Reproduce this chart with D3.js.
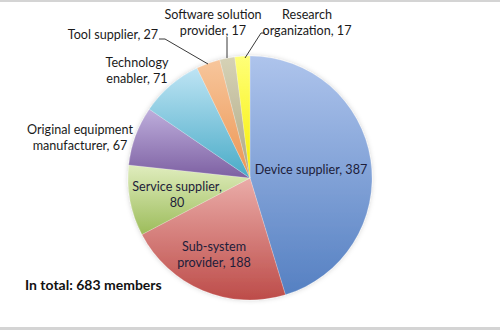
<!DOCTYPE html>
<html>
<head>
<meta charset="utf-8">
<script src="https://cdn.jsdelivr.net/npm/d3@7"></script>
<style>
  body { margin: 0; background: #fff; }
  svg { display: block; }
</style>
</head>
<body>
<script>
// data
var categories = ["Device supplier", "Sub-system provider", "Service supplier",
  "Original equipment manufacturer", "Technology enabler", "Tool supplier",
  "Software solution provider", "Research organization"];
var values = [387, 188, 80, 67, 71, 27, 17, 17];
var labelLines = [
  ["Device supplier, 387"],
  ["Sub-system", "provider, 188"],
  ["Service supplier,", "80"],
  ["Original equipment", "manufacturer, 67"],
  ["Technology", "enabler, 71"],
  ["Tool supplier, 27"],
  ["Software solution", "provider, 17"],
  ["Research", "organization, 17"]
];
var totalText = "In total: 683 members";

// gradient colours (top tint, bottom base) per slice
var topColors = ["#aec4ec", "#eaaca8", "#e0edbe", "#beaedc", "#bee4f4", "#f7c69c", "#d6d2b6", "#ffff78"];
var baseColors = ["#5580c2", "#bd4c49", "#9cbc5a", "#7d60a2", "#49abc7", "#ec9552", "#aea885", "#f6ee00"];

// label layout: [x, y of first line, anchor], leader lines
var labelPos = [
  [311, 174, "middle"],
  [214, 251, "middle"],
  [177, 191, "middle"],
  [80, 134, "middle"],
  [137, 67, "middle"],
  [113, 39, "middle"],
  [213, 19, "middle"],
  [307, 19, "middle"]
];
var leaders = {
  5: [[159, 39], [165, 39], [208, 64]],
  6: [[227, 37], [227, 58]],
  7: [[265, 33], [261, 33], [245, 58]]
};

var width = 500, height = 330;
var cx = 250, cy = 178, radius = 122;

var svg = d3.select("body").append("svg")
  .attr("width", width)
  .attr("height", height);

// frame lines top and bottom
svg.append("rect").attr("x", 0).attr("y", 0).attr("width", width).attr("height", 2).attr("fill", "#d4d4d4");
svg.append("rect").attr("x", 0).attr("y", 327).attr("width", width).attr("height", 3).attr("fill", "#d4d4d4");

var defs = svg.append("defs");
values.forEach(function (v, i) {
  var g = defs.append("linearGradient")
    .attr("id", "grad" + i)
    .attr("x1", 0).attr("y1", 0)
    .attr("x2", 0).attr("y2", 1);
  g.append("stop").attr("offset", "0%").attr("stop-color", topColors[i]);
  g.append("stop").attr("offset", "100%").attr("stop-color", baseColors[i]);
});

var filter = defs.append("filter").attr("id", "shadow")
  .attr("x", "-20%").attr("y", "-20%").attr("width", "140%").attr("height", "140%");
filter.append("feGaussianBlur").attr("in", "SourceAlpha").attr("stdDeviation", 2.5).attr("result", "blur");
filter.append("feFlood").attr("flood-color", "#000").attr("flood-opacity", 0.18);
filter.append("feComposite").attr("in2", "blur").attr("operator", "in");
var merge = filter.append("feMerge");
merge.append("feMergeNode");
merge.append("feMergeNode").attr("in", "SourceGraphic");

var pie = d3.pie().sort(null).value(function (d) { return d; });
var arc = d3.arc().innerRadius(0).outerRadius(radius);

var pieG = svg.append("g")
  .attr("transform", "translate(" + cx + "," + cy + ")")
  .attr("filter", "url(#shadow)");

pieG.selectAll("path")
  .data(pie(values))
  .enter()
  .append("path")
  .attr("d", arc)
  .attr("fill", function (d, i) { return "url(#grad" + i + ")"; })
  .attr("stroke", "#fff")
  .attr("stroke-opacity", 0.4)
  .attr("stroke-width", 0.5);

// leader lines
Object.keys(leaders).forEach(function (k) {
  svg.append("path")
    .attr("d", d3.line()(leaders[k]))
    .attr("fill", "none")
    .attr("stroke", "#222")
    .attr("stroke-width", 0.9);
});

var font = "Lato, 'Open Sans', sans-serif";
labelLines.forEach(function (lines, i) {
  var t = svg.append("text")
    .attr("x", labelPos[i][0])
    .attr("y", labelPos[i][1])
    .attr("text-anchor", labelPos[i][2])
    .attr("font-family", font)
    .attr("font-size", 12.6)
    .attr("fill", i < 3 ? "#1d1d3a" : "#1a1a1a");
  lines.forEach(function (l, j) {
    t.append("tspan")
      .attr("x", labelPos[i][0])
      .attr("dy", j === 0 ? 0 : 15.5)
      .text(l);
  });
});

svg.append("text")
  .attr("x", 25)
  .attr("y", 290)
  .attr("font-family", font)
  .attr("font-size", 14)
  .attr("font-weight", "bold")
  .attr("fill", "#111")
  .text(totalText);
</script>
</body>
</html>
